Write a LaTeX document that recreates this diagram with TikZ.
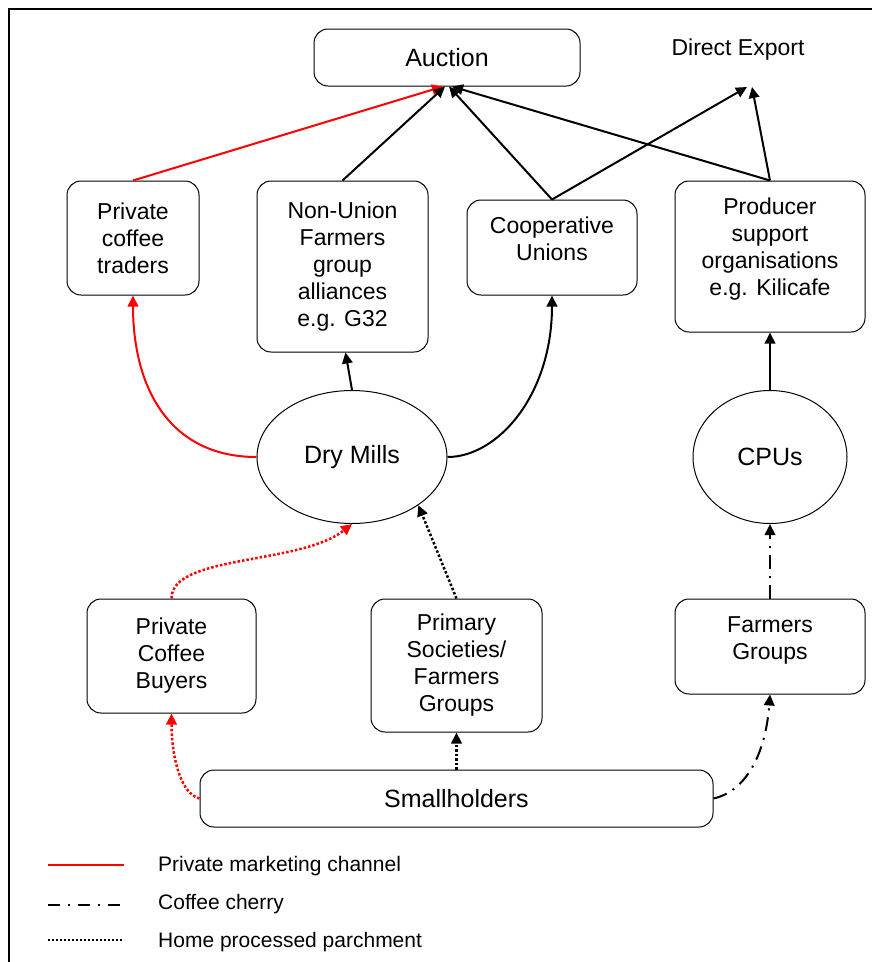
\documentclass[tikz,border=0pt]{standalone}
\usepackage{fontspec}
\setmainfont{Liberation Sans}
\usetikzlibrary{arrows.meta,shapes.geometric}
\begin{document}
\begin{tikzpicture}[x=1pt,y=-1pt,
  box/.style={draw, rounded corners=14pt, line width=1pt, align=center, inner sep=0pt,
              font=\fontsize{23}{27}\selectfont},
  txt/.style={align=center, inner sep=0pt, font=\fontsize{23}{27}\selectfont},
  oval/.style={draw, ellipse, line width=1pt, inner sep=0pt, font=\fontsize{25}{29}\selectfont},
  tip/.style={-{Triangle[length=11pt,width=10.5pt]}},
  flow/.style={line width=2pt, tip},
  privflow/.style={line width=2pt, red, -{Triangle[length=11pt,width=10.5pt,fill=red]}},
  privdot/.style={line width=2.5pt, red, dash pattern=on 2.5pt off 2pt, -{Triangle[length=11pt,width=10.5pt,fill=red]}},
  homedot/.style={line width=2.5pt, dash pattern=on 2.5pt off 2pt, tip},
  cherry/.style={line width=2pt, dash pattern=on 14pt off 7pt on 2pt off 7pt, tip},
  legtxt/.style={anchor=west, inner sep=0pt, font=\fontsize{21}{25}\selectfont}
]
\useasboundingbox (0,0) rectangle (872,962);
\fill[white] (0,0) rectangle (872,962);
% frame
\draw[line width=2.6pt] (872,9) -- (9,9) -- (9,962);

% top row
\node[box, minimum width=266pt, minimum height=57pt, font=\fontsize{25}{29}\selectfont] (auction) at (447,57.5) {Auction};
\node[txt] (direct) at (738,50) {Direct Export};
\coordinate (de1) at (747,87);
\coordinate (de2) at (752,87);

% second row
\node[box, minimum width=132pt, minimum height=114pt] (pct) at (133,238) {Private\\coffee\\traders};
\node[box, minimum width=171pt, minimum height=171pt] (nonu) at (342.5,266.5) {Non-Union\\Farmers\\group\\alliances\\e.g. G32};
\node[box, minimum width=170pt, minimum height=95pt] (coop) at (552,247.5) {};
\node[txt] (coopT) at (552,238.5) {Cooperative\\Unions};
\node[box, minimum width=190pt, minimum height=151pt] (prod) at (770,256.5) {};
\node[txt] (prodT) at (770,249) {Producer\\support\\organisations\\e.g. Kilicafe};

% mills
\node[oval, minimum width=190pt, minimum height=133pt] (dry) at (352,457) {Dry Mills};
\node[oval, minimum width=154pt, minimum height=133pt] (cpu) at (770,457) {CPUs};

% lower row
\node[box, minimum width=169pt, minimum height=114pt] (pcb) at (171.5,656) {Private\\Coffee\\Buyers};
\node[box, minimum width=171pt, minimum height=133pt] (prim) at (456.5,665.5) {Primary\\Societies/\\Farmers\\Groups};
\node[box, minimum width=190pt, minimum height=95pt] (fg) at (770,646.5) {};
\node[txt] (fgT) at (770,640) {Farmers\\Groups};
\node[box, minimum width=513pt, minimum height=57pt, font=\fontsize{25}{29}\selectfont] (small) at (456.5,798.5) {Smallholders};

% connectors to auction / export
\draw[privflow] (pct.north) -- ([xshift=-4pt]auction.south);
\draw[flow] (nonu.north) -- ([xshift=-2pt]auction.south);
\draw[flow] (coop.north) -- ([xshift=2pt]auction.south);
\draw[flow] (prod.north) -- ([xshift=5pt]auction.south);
\draw[flow] (coop.north) -- (de1);
\draw[flow] (prod.north) -- (de2);

% from mills
\draw[privflow] (dry.west) .. controls +(-85,0) and +(0,95) .. (pct.south);
\draw[flow] (dry.east) .. controls +(50,0) and +(0,100) .. (coop.south);
\draw[flow] (dry.north) -- ([xshift=3pt]nonu.south);
\draw[flow] (cpu.north) -- (prod.south);

% into mills
\draw[privdot] (pcb.north) .. controls +(0,-44) and +(-52,41) .. (dry.south);
\draw[homedot] (prim.north) -- (dry.-36);
\draw[cherry] (fg.north) -- (cpu.south);

% from smallholders
\draw[privdot] (small.west) .. controls +(-20,-5) and +(0,40) .. (pcb.south);
\draw[homedot] (small.north) -- (prim.south);
\draw[cherry] (small.east) .. controls +(35,-8) and +(-4,55) .. (fg.south);

% legend
\coordinate (l1a) at (48,865); \coordinate (l1b) at (124,865);
\coordinate (l2a) at (48,905); \coordinate (l2b) at (124,905);
\coordinate (l3a) at (48,940); \coordinate (l3b) at (124,940);
\draw[line width=2pt, red] (l1a) -- (l1b);
\draw[line width=2pt, dash pattern=on 12pt off 8pt on 2pt off 8pt] (l2a) -- (l2b);
\draw[line width=2pt, dash pattern=on 2pt off 2pt] (l3a) -- (l3b);
\node[legtxt] (leg1) at (158,866) {Private marketing channel};
\node[legtxt] (leg2) at (158,904) {Coffee cherry};
\node[legtxt] (leg3) at (158,942) {Home processed parchment};
\end{tikzpicture}
\end{document}
